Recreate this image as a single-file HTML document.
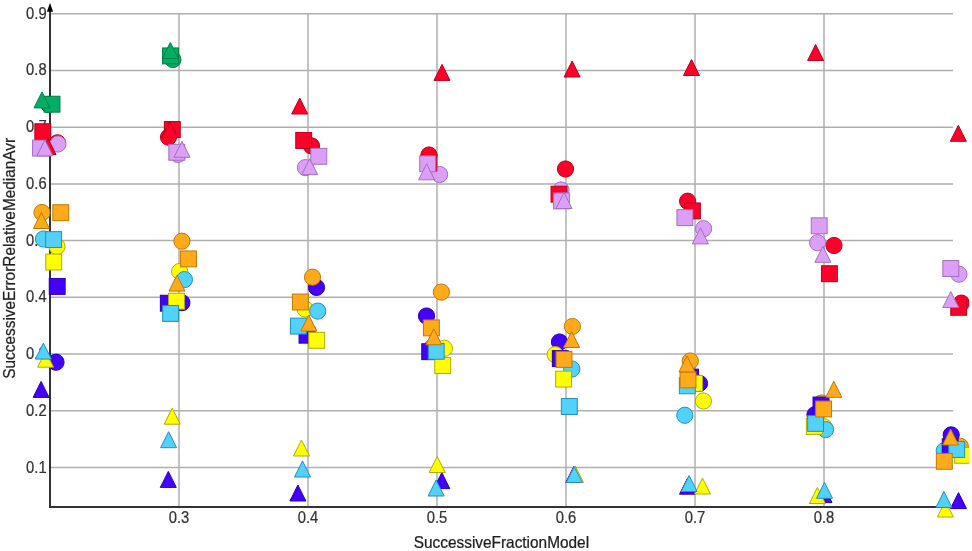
<!DOCTYPE html>
<html><head><meta charset="utf-8"><title>chart</title>
<style>
html,body{margin:0;padding:0;background:#fff;}
body{width:972px;height:551px;overflow:hidden;}
svg{display:block;will-change:transform;}
.t{font-family:"Liberation Sans",sans-serif;font-size:16.5px;fill:#333;stroke:#333;stroke-width:0.25px;}
.tt{font-family:"Liberation Sans",sans-serif;font-size:16px;fill:#1e1e1e;stroke:#1e1e1e;stroke-width:0.25px;}
</style></head><body>
<svg width="972" height="551" viewBox="0 0 972 551">
<rect width="972" height="551" fill="#fff"/>
<g stroke="#afafaf" stroke-width="1.5"><line x1="51" y1="467.54" x2="953" y2="467.54"/><line x1="51" y1="410.81" x2="953" y2="410.81"/><line x1="51" y1="354.08" x2="953" y2="354.08"/><line x1="51" y1="297.35" x2="953" y2="297.35"/><line x1="51" y1="240.62" x2="953" y2="240.62"/><line x1="51" y1="183.89" x2="953" y2="183.89"/><line x1="51" y1="127.16" x2="953" y2="127.16"/><line x1="51" y1="70.43" x2="953" y2="70.43"/><line x1="51" y1="13.7" x2="953" y2="13.7"/><line x1="179" y1="13" x2="179" y2="506"/><line x1="308" y1="13" x2="308" y2="506"/><line x1="437" y1="13" x2="437" y2="506"/><line x1="566" y1="13" x2="566" y2="506"/><line x1="695" y1="13" x2="695" y2="506"/><line x1="824" y1="13" x2="824" y2="506"/></g>
<g class="t"><text transform="translate(46.6,472.54) scale(0.895,1)" text-anchor="end">0.1</text><text transform="translate(46.6,415.81) scale(0.895,1)" text-anchor="end">0.2</text><text transform="translate(46.6,359.08) scale(0.895,1)" text-anchor="end">0.3</text><text transform="translate(46.6,302.35) scale(0.895,1)" text-anchor="end">0.4</text><text transform="translate(46.6,245.62) scale(0.895,1)" text-anchor="end">0.5</text><text transform="translate(46.6,188.89) scale(0.895,1)" text-anchor="end">0.6</text><text transform="translate(46.6,132.16) scale(0.895,1)" text-anchor="end">0.7</text><text transform="translate(46.6,75.43) scale(0.895,1)" text-anchor="end">0.8</text><text transform="translate(46.6,18.7) scale(0.895,1)" text-anchor="end">0.9</text><text transform="translate(179,522.6) scale(0.895,1)" text-anchor="middle">0.3</text><text transform="translate(308,522.6) scale(0.895,1)" text-anchor="middle">0.4</text><text transform="translate(437,522.6) scale(0.895,1)" text-anchor="middle">0.5</text><text transform="translate(566,522.6) scale(0.895,1)" text-anchor="middle">0.6</text><text transform="translate(695,522.6) scale(0.895,1)" text-anchor="middle">0.7</text><text transform="translate(824,522.6) scale(0.895,1)" text-anchor="middle">0.8</text></g>
<text class="tt" transform="translate(501.4,548) scale(0.963,1)" text-anchor="middle">SuccessiveFractionModel</text>
<text class="tt" transform="translate(15.2,258.3) rotate(-90) scale(0.963,1)" text-anchor="middle">SuccessiveErrorRelativeMedianAvr</text>
<g fill="#333" stroke="none"><rect x="49" y="11" width="2" height="497"/><rect x="49" y="506" width="904" height="2"/></g>
<polygon points="50,2.8 53.1,11.8 46.9,11.8" fill="#000"/>
<defs><clipPath id="pc"><rect x="0" y="0" width="969.2" height="551"/></clipPath></defs>
<g stroke-width="1" clip-path="url(#pc)"><circle cx="48.8" cy="104.6" r="8.1" fill="#00ae64" stroke="#007e45"/><circle cx="172.9" cy="59.5" r="8.1" fill="#00ae64" stroke="#007e45"/><circle cx="57.5" cy="142.8" r="8.1" fill="#ff0028" stroke="#b8001c"/><circle cx="168.5" cy="137.2" r="8.1" fill="#ff0028" stroke="#b8001c"/><circle cx="311.5" cy="145.9" r="8.1" fill="#ff0028" stroke="#b8001c"/><circle cx="429" cy="155" r="8.1" fill="#ff0028" stroke="#b8001c"/><circle cx="565.5" cy="169" r="8.1" fill="#ff0028" stroke="#b8001c"/><circle cx="687.6" cy="201.2" r="8.1" fill="#ff0028" stroke="#b8001c"/><circle cx="834" cy="245.5" r="8.1" fill="#ff0028" stroke="#b8001c"/><circle cx="961.3" cy="303.1" r="8.1" fill="#ff0028" stroke="#b8001c"/><circle cx="57.9" cy="144" r="8.1" fill="#dc9ff6" stroke="#a370c0"/><circle cx="178" cy="154.4" r="8.1" fill="#dc9ff6" stroke="#a370c0"/><circle cx="305.4" cy="167.6" r="8.1" fill="#dc9ff6" stroke="#a370c0"/><circle cx="439.6" cy="174.5" r="8.1" fill="#dc9ff6" stroke="#a370c0"/><circle cx="561" cy="190" r="8.1" fill="#dc9ff6" stroke="#a370c0"/><circle cx="703.6" cy="228.7" r="8.1" fill="#dc9ff6" stroke="#a370c0"/><circle cx="817.6" cy="242.7" r="8.1" fill="#dc9ff6" stroke="#a370c0"/><circle cx="958.9" cy="274.2" r="8.1" fill="#dc9ff6" stroke="#a370c0"/><circle cx="56" cy="362.2" r="8.1" fill="#4400ff" stroke="#2a00aa"/><circle cx="181.9" cy="302.7" r="8.1" fill="#4400ff" stroke="#2a00aa"/><circle cx="316.5" cy="287.4" r="8.1" fill="#4400ff" stroke="#2a00aa"/><circle cx="426.5" cy="316" r="8.1" fill="#4400ff" stroke="#2a00aa"/><circle cx="559.5" cy="342" r="8.1" fill="#4400ff" stroke="#2a00aa"/><circle cx="699.5" cy="383.4" r="8.1" fill="#4400ff" stroke="#2a00aa"/><circle cx="815" cy="414.7" r="8.1" fill="#4400ff" stroke="#2a00aa"/><circle cx="951.2" cy="434.9" r="8.1" fill="#4400ff" stroke="#2a00aa"/><circle cx="57" cy="246.5" r="8.1" fill="#ffff00" stroke="#adad00"/><circle cx="179.7" cy="271.5" r="8.1" fill="#ffff00" stroke="#adad00"/><circle cx="305" cy="309" r="8.1" fill="#ffff00" stroke="#adad00"/><circle cx="444.4" cy="348.3" r="8.1" fill="#ffff00" stroke="#adad00"/><circle cx="555.2" cy="354.6" r="8.1" fill="#ffff00" stroke="#adad00"/><circle cx="703.4" cy="401" r="8.1" fill="#ffff00" stroke="#adad00"/><circle cx="824" cy="426.8" r="8.1" fill="#ffff00" stroke="#adad00"/><circle cx="43.5" cy="239" r="8.1" fill="#52d2fa" stroke="#2090ba"/><circle cx="184.4" cy="279.6" r="8.1" fill="#52d2fa" stroke="#2090ba"/><circle cx="317.7" cy="311.1" r="8.1" fill="#52d2fa" stroke="#2090ba"/><circle cx="432" cy="347.5" r="8.1" fill="#52d2fa" stroke="#2090ba"/><circle cx="571.8" cy="369" r="8.1" fill="#52d2fa" stroke="#2090ba"/><circle cx="684.8" cy="415.3" r="8.1" fill="#52d2fa" stroke="#2090ba"/><circle cx="825.6" cy="429.5" r="8.1" fill="#52d2fa" stroke="#2090ba"/><circle cx="944.2" cy="450.8" r="8.1" fill="#52d2fa" stroke="#2090ba"/><circle cx="42" cy="212.5" r="8.1" fill="#ffaa1a" stroke="#c07800"/><circle cx="181.9" cy="241.2" r="8.1" fill="#ffaa1a" stroke="#c07800"/><circle cx="312.5" cy="277.2" r="8.1" fill="#ffaa1a" stroke="#c07800"/><circle cx="441.4" cy="292.1" r="8.1" fill="#ffaa1a" stroke="#c07800"/><circle cx="572.4" cy="326.5" r="8.1" fill="#ffaa1a" stroke="#c07800"/><circle cx="690.3" cy="361" r="8.1" fill="#ffaa1a" stroke="#c07800"/><circle cx="821.5" cy="403" r="8.1" fill="#ffaa1a" stroke="#c07800"/><circle cx="960.3" cy="446.3" r="8.1" fill="#ffaa1a" stroke="#c07800"/><rect x="44.05" y="96.25" width="15.9" height="15.9" fill="#00ae64" stroke="#007e45"/><rect x="162.55" y="47.95" width="15.9" height="15.9" fill="#00ae64" stroke="#007e45"/><rect x="34.85" y="123.75" width="15.9" height="15.9" fill="#ff0028" stroke="#b8001c"/><rect x="164.35" y="121.55" width="15.9" height="15.9" fill="#ff0028" stroke="#b8001c"/><rect x="295.75" y="132.55" width="15.9" height="15.9" fill="#ff0028" stroke="#b8001c"/><rect x="420.95" y="155.05" width="15.9" height="15.9" fill="#ff0028" stroke="#b8001c"/><rect x="551.05" y="186.25" width="15.9" height="15.9" fill="#ff0028" stroke="#b8001c"/><rect x="684.45" y="202.95" width="15.9" height="15.9" fill="#ff0028" stroke="#b8001c"/><rect x="821.45" y="265.75" width="15.9" height="15.9" fill="#ff0028" stroke="#b8001c"/><rect x="950.75" y="299.35" width="15.9" height="15.9" fill="#ff0028" stroke="#b8001c"/><rect x="32.55" y="140.15" width="15.9" height="15.9" fill="#dc9ff6" stroke="#a370c0"/><rect x="168.85" y="144.35" width="15.9" height="15.9" fill="#dc9ff6" stroke="#a370c0"/><rect x="310.85" y="148.35" width="15.9" height="15.9" fill="#dc9ff6" stroke="#a370c0"/><rect x="419.75" y="155.85" width="15.9" height="15.9" fill="#dc9ff6" stroke="#a370c0"/><rect x="553.45" y="192.95" width="15.9" height="15.9" fill="#dc9ff6" stroke="#a370c0"/><rect x="676.95" y="209.65" width="15.9" height="15.9" fill="#dc9ff6" stroke="#a370c0"/><rect x="811.25" y="217.85" width="15.9" height="15.9" fill="#dc9ff6" stroke="#a370c0"/><rect x="942.85" y="260.55" width="15.9" height="15.9" fill="#dc9ff6" stroke="#a370c0"/><rect x="49.25" y="278.45" width="15.9" height="15.9" fill="#4400ff" stroke="#2a00aa"/><rect x="160.35" y="295.25" width="15.9" height="15.9" fill="#4400ff" stroke="#2a00aa"/><rect x="299.05" y="327.25" width="15.9" height="15.9" fill="#4400ff" stroke="#2a00aa"/><rect x="421.75" y="343.75" width="15.9" height="15.9" fill="#4400ff" stroke="#2a00aa"/><rect x="552.35" y="350.65" width="15.9" height="15.9" fill="#4400ff" stroke="#2a00aa"/><rect x="682.55" y="369.15" width="15.9" height="15.9" fill="#4400ff" stroke="#2a00aa"/><rect x="813.05" y="397.05" width="15.9" height="15.9" fill="#4400ff" stroke="#2a00aa"/><rect x="942.25" y="438.75" width="15.9" height="15.9" fill="#4400ff" stroke="#2a00aa"/><rect x="45.75" y="254.05" width="15.9" height="15.9" fill="#ffff00" stroke="#adad00"/><rect x="168.55" y="293.25" width="15.9" height="15.9" fill="#ffff00" stroke="#adad00"/><rect x="308.75" y="332.35" width="15.9" height="15.9" fill="#ffff00" stroke="#adad00"/><rect x="434.75" y="357.55" width="15.9" height="15.9" fill="#ffff00" stroke="#adad00"/><rect x="555.65" y="371.15" width="15.9" height="15.9" fill="#ffff00" stroke="#adad00"/><rect x="686.65" y="375.35" width="15.9" height="15.9" fill="#ffff00" stroke="#adad00"/><rect x="806.35" y="418.45" width="15.9" height="15.9" fill="#ffff00" stroke="#adad00"/><rect x="954.65" y="447.35" width="15.9" height="15.9" fill="#ffff00" stroke="#adad00"/><rect x="45.65" y="231.65" width="15.9" height="15.9" fill="#52d2fa" stroke="#2090ba"/><rect x="162.65" y="305.45" width="15.9" height="15.9" fill="#52d2fa" stroke="#2090ba"/><rect x="290.45" y="318.15" width="15.9" height="15.9" fill="#52d2fa" stroke="#2090ba"/><rect x="428.25" y="343.35" width="15.9" height="15.9" fill="#52d2fa" stroke="#2090ba"/><rect x="561.35" y="398.55" width="15.9" height="15.9" fill="#52d2fa" stroke="#2090ba"/><rect x="679.35" y="377.85" width="15.9" height="15.9" fill="#52d2fa" stroke="#2090ba"/><rect x="807.65" y="415.45" width="15.9" height="15.9" fill="#52d2fa" stroke="#2090ba"/><rect x="948.75" y="441.55" width="15.9" height="15.9" fill="#52d2fa" stroke="#2090ba"/><rect x="52.85" y="204.75" width="15.9" height="15.9" fill="#ffaa1a" stroke="#c07800"/><rect x="180.55" y="250.95" width="15.9" height="15.9" fill="#ffaa1a" stroke="#c07800"/><rect x="292.45" y="294.05" width="15.9" height="15.9" fill="#ffaa1a" stroke="#c07800"/><rect x="423.45" y="319.95" width="15.9" height="15.9" fill="#ffaa1a" stroke="#c07800"/><rect x="556.05" y="351.45" width="15.9" height="15.9" fill="#ffaa1a" stroke="#c07800"/><rect x="680.05" y="371.95" width="15.9" height="15.9" fill="#ffaa1a" stroke="#c07800"/><rect x="815.65" y="401.05" width="15.9" height="15.9" fill="#ffaa1a" stroke="#c07800"/><rect x="936.35" y="453.35" width="15.9" height="15.9" fill="#ffaa1a" stroke="#c07800"/><polygon points="42,91.9 50,107.9 34,107.9" fill="#00ae64" stroke="#007e45"/><polygon points="170.3,42.5 178.3,58.5 162.3,58.5" fill="#00ae64" stroke="#007e45"/><polygon points="48,138.5 56,154.5 40,154.5" fill="#ff0028" stroke="#b8001c"/><polygon points="169.7,121.4 177.7,137.4 161.7,137.4" fill="#ff0028" stroke="#b8001c"/><polygon points="299.7,98 307.7,114 291.7,114" fill="#ff0028" stroke="#b8001c"/><polygon points="442,64.4 450,80.4 434,80.4" fill="#ff0028" stroke="#b8001c"/><polygon points="572.1,61 580.1,77 564.1,77" fill="#ff0028" stroke="#b8001c"/><polygon points="691.5,59.5 699.5,75.5 683.5,75.5" fill="#ff0028" stroke="#b8001c"/><polygon points="815.6,44.5 823.6,60.5 807.6,60.5" fill="#ff0028" stroke="#b8001c"/><polygon points="958.3,125.3 966.3,141.3 950.3,141.3" fill="#ff0028" stroke="#b8001c"/><polygon points="44.9,139.9 52.9,155.9 36.9,155.9" fill="#dc9ff6" stroke="#a370c0"/><polygon points="182,141.3 190,157.3 174,157.3" fill="#dc9ff6" stroke="#a370c0"/><polygon points="309.7,158.7 317.7,174.7 301.7,174.7" fill="#dc9ff6" stroke="#a370c0"/><polygon points="426.6,163.8 434.6,179.8 418.6,179.8" fill="#dc9ff6" stroke="#a370c0"/><polygon points="564,192.5 572,208.5 556,208.5" fill="#dc9ff6" stroke="#a370c0"/><polygon points="700.4,227.9 708.4,243.9 692.4,243.9" fill="#dc9ff6" stroke="#a370c0"/><polygon points="822.9,246.3 830.9,262.3 814.9,262.3" fill="#dc9ff6" stroke="#a370c0"/><polygon points="950.8,291.5 958.8,307.5 942.8,307.5" fill="#dc9ff6" stroke="#a370c0"/><polygon points="41.1,381.4 49.1,397.4 33.1,397.4" fill="#4400ff" stroke="#2a00aa"/><polygon points="168.3,471.4 176.3,487.4 160.3,487.4" fill="#4400ff" stroke="#2a00aa"/><polygon points="297.9,485 305.9,501 289.9,501" fill="#4400ff" stroke="#2a00aa"/><polygon points="441.8,472.6 449.8,488.6 433.8,488.6" fill="#4400ff" stroke="#2a00aa"/><polygon points="573.8,466.5 581.8,482.5 565.8,482.5" fill="#4400ff" stroke="#2a00aa"/><polygon points="687.5,478.2 695.5,494.2 679.5,494.2" fill="#4400ff" stroke="#2a00aa"/><polygon points="824,486.6 832,502.6 816,502.6" fill="#4400ff" stroke="#2a00aa"/><polygon points="958.5,492.6 966.5,508.6 950.5,508.6" fill="#4400ff" stroke="#2a00aa"/><polygon points="45.6,351.2 53.6,367.2 37.6,367.2" fill="#ffff00" stroke="#adad00"/><polygon points="172.2,408.2 180.2,424.2 164.2,424.2" fill="#ffff00" stroke="#adad00"/><polygon points="301.5,440 309.5,456 293.5,456" fill="#ffff00" stroke="#adad00"/><polygon points="437.2,456.5 445.2,472.5 429.2,472.5" fill="#ffff00" stroke="#adad00"/><polygon points="575.5,466.5 583.5,482.5 567.5,482.5" fill="#ffff00" stroke="#adad00"/><polygon points="702.5,478 710.5,494 694.5,494" fill="#ffff00" stroke="#adad00"/><polygon points="817.4,487.5 825.4,503.5 809.4,503.5" fill="#ffff00" stroke="#adad00"/><polygon points="945.4,501 953.4,517 937.4,517" fill="#ffff00" stroke="#adad00"/><polygon points="43.4,343.1 51.4,359.1 35.4,359.1" fill="#52d2fa" stroke="#2090ba"/><polygon points="168.6,431.7 176.6,447.7 160.6,447.7" fill="#52d2fa" stroke="#2090ba"/><polygon points="302.5,461 310.5,477 294.5,477" fill="#52d2fa" stroke="#2090ba"/><polygon points="436.1,480 444.1,496 428.1,496" fill="#52d2fa" stroke="#2090ba"/><polygon points="574.2,466.5 582.2,482.5 566.2,482.5" fill="#52d2fa" stroke="#2090ba"/><polygon points="689.1,475.5 697.1,491.5 681.1,491.5" fill="#52d2fa" stroke="#2090ba"/><polygon points="824.5,482.3 832.5,498.3 816.5,498.3" fill="#52d2fa" stroke="#2090ba"/><polygon points="943.9,491.5 951.9,507.5 935.9,507.5" fill="#52d2fa" stroke="#2090ba"/><polygon points="41.4,212.5 49.4,228.5 33.4,228.5" fill="#ffaa1a" stroke="#c07800"/><polygon points="177,275.1 185,291.1 169,291.1" fill="#ffaa1a" stroke="#c07800"/><polygon points="308.8,315 316.8,331 300.8,331" fill="#ffaa1a" stroke="#c07800"/><polygon points="433.8,328.8 441.8,344.8 425.8,344.8" fill="#ffaa1a" stroke="#c07800"/><polygon points="571.6,331.5 579.6,347.5 563.6,347.5" fill="#ffaa1a" stroke="#c07800"/><polygon points="687,355.9 695,371.9 679,371.9" fill="#ffaa1a" stroke="#c07800"/><polygon points="833.8,381.3 841.8,397.3 825.8,397.3" fill="#ffaa1a" stroke="#c07800"/><polygon points="950.6,429 958.6,445 942.6,445" fill="#ffaa1a" stroke="#c07800"/></g>
</svg>
</body></html>
